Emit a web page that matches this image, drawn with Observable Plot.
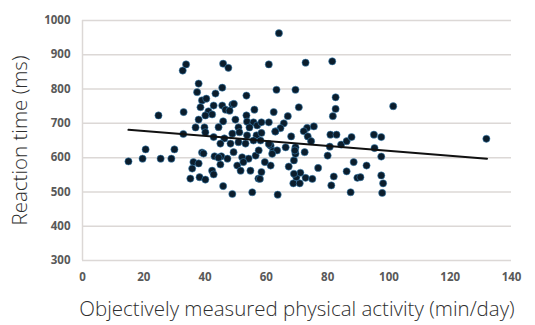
<!DOCTYPE html>
<html>
<head>
<meta charset="utf-8">
<script src="https://cdn.jsdelivr.net/npm/d3@7"></script>
<script src="https://cdn.jsdelivr.net/npm/@observablehq/plot@0.6"></script>
<style>
  html, body { margin: 0; padding: 0; background: #fff; }
  #chart svg { display: block; }
  g[aria-label="y-axis tick label"] text, g[aria-label="x-axis tick label"] text {
    font-family: "Open Sans", sans-serif; font-size: 11.5px; font-weight: 700; fill: #595959;
  }
  g[aria-label="y-axis label"] text, g[aria-label="x-axis label"] text {
    font-family: "Open Sans", sans-serif; font-size: 20.5px; font-weight: 300; fill: #2e2e2e;
  }
</style>
</head>
<body>
<div id="chart"></div>
<script>
// Objectively measured physical activity (min/day)
const activity = [
  15, 19.6, 20.6, 25.5, 29, 30, 24.8,
  33.8, 32.7, 45.9, 47.6, 37.9, 37.4, 45.6, 43.4, 53.5, 39, 40.4, 38.5, 42.8, 45.6, 48.9, 46.7, 48, 41.1, 42.3, 40.1, 33, 37.9, 45.9, 49.9, 53.5, 56.1, 53.7, 55.8, 36.9, 39.8, 44.4, 50.9, 54.5, 57,
  32.9, 40.1, 42.8, 46.3, 48.9, 51.2, 53.7, 56.8, 45, 48.3, 50.9, 53.2, 55.8, 39, 43.1, 45.3, 47.3, 49.3, 52.1, 54.2, 56.5, 36.2, 37.9, 35.8, 45, 50.5, 52.5, 51.6, 54.8, 42.3, 42.8, 38.2, 40.1, 35.2, 45.9, 48.9, 55.4, 57.4, 39.5, 44.4,
  60.8, 72.8, 81.5, 64.1, 63.3, 69.5, 82.6, 82.6, 81.7, 70.6, 62.4, 67, 58.4, 60.8, 65.7, 64.6, 73.3, 75.5, 49.4,
  63, 68.1, 72.2, 73.5, 74.6, 80.9, 82.9, 80.7, 84.4, 86.2, 87.8, 69.5, 66.3, 61.4, 58.1, 62.2, 72.5, 80,
  63.7, 57.9, 58.4, 61.4, 67.3, 69, 68.8, 70.9, 69.8, 72.8, 75, 76.9, 71.1, 81.2, 87.5, 82, 86.2, 89.7, 88.5, 92.7, 69.5, 63.5, 61.9,
  58.4, 62.9, 60.8, 69.3, 57.5, 59.5, 69,
  101.4, 95.1, 97.5, 95.3, 97.5, 131.8, 97.5, 98.1, 97.8, 90.7
];
// Reaction time (ms)
const reactionTime = [
  589, 597, 624, 597, 597, 624, 723,
  872, 854, 874, 862, 816, 791, 804, 787, 781, 767, 772, 747, 752, 752, 755, 740, 737, 735, 726, 723, 733, 711, 706, 711, 723, 740, 705, 703, 688, 688, 689, 688, 688, 694,
  669, 674, 660, 656, 670, 674, 665, 665, 641, 641, 645, 641, 650, 615, 604, 604, 597, 616, 601, 597, 606, 587, 583, 568, 580, 577, 587, 562, 562, 562, 551, 543, 536, 539, 517, 494, 499, 539, 612, 600,
  872, 877, 881, 963, 798, 798, 776, 742, 721, 747, 733, 721, 703, 703, 700, 686, 687, 691, 757,
  677, 662, 677, 662, 648, 667, 667, 632, 638, 648, 660, 630, 630, 635, 650, 619, 616, 606,
  492, 538, 558, 577, 574, 592, 525, 525, 543, 541, 538, 570, 556, 519, 499, 545, 560, 541, 587, 577, 611, 621, 611,
  672, 676, 640, 621, 621, 587, 553,
  750, 667, 660, 628, 603, 655, 548, 525, 497, 543
];
// Fitted trend line end points
const trendX = [15, 132];
const trendY = [681, 597];

const xTicks = [0, 20, 40, 60, 80, 100, 120, 140];
const yTicks = [300, 400, 500, 600, 700, 800, 900, 1000];

const points = activity.map((a, i) => ({activity: a, rt: reactionTime[i]}));
const trend = trendX.map((a, i) => ({activity: a, rt: trendY[i]}));

const chart = Plot.plot({
  width: 535,
  height: 325,
  marginLeft: 82,
  marginRight: 24,
  marginTop: 20,
  marginBottom: 65,
  style: {background: "#fff"},
  x: {domain: [0, 140]},
  y: {domain: [300, 1000]},
  marks: [
    Plot.gridY(yTicks, {stroke: "#dcd8d6", strokeOpacity: 1, strokeWidth: 1.5}),
    Plot.ruleX([0], {stroke: "#dcd8d6", strokeWidth: 1.5}),
    Plot.axisY({ticks: yTicks, tickSize: 0, tickPadding: 12, tickFormat: d3.format("d"),
      label: "Reaction time (ms)", labelAnchor: "center", labelArrow: "none", labelOffset: 70}),
    Plot.axisX({ticks: xTicks, tickSize: 0, tickPadding: 12, tickFormat: d3.format("d"),
      label: "Objectively measured physical activity (min/day)", labelAnchor: "center", labelArrow: "none", labelOffset: 55}),
    Plot.dot(points, {x: "activity", y: "rt", r: 3.6, fill: "#0b1d2c", stroke: "#3d86bb", strokeWidth: 1, strokeOpacity: 0.55}),
    Plot.line(trend, {x: "activity", y: "rt", stroke: "#111", strokeWidth: 2})
  ]
});
document.getElementById("chart").appendChild(chart);
</script>
</body>
</html>
